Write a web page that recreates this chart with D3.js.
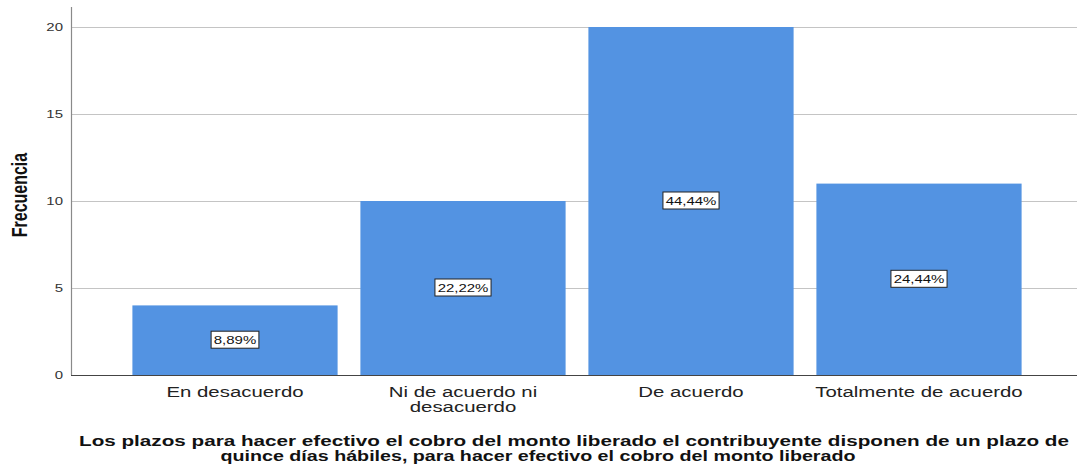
<!DOCTYPE html>
<html><head><meta charset="utf-8">
<script src="https://cdn.jsdelivr.net/npm/d3@7"></script>
<style>
html,body{margin:0;padding:0;background:#fff;}
svg{display:block;}
</style>
</head><body>
<svg id="chart" width="1077" height="468"></svg>
<script>
const categories = ["En desacuerdo", "Ni de acuerdo ni desacuerdo", "De acuerdo", "Totalmente de acuerdo"];
const categoryLines = [["En desacuerdo"], ["Ni de acuerdo ni", "desacuerdo"], ["De acuerdo"], ["Totalmente de acuerdo"]];
const frequencies = [4, 10, 20, 11];
const percentLabels = ["8,89%", "22,22%", "44,44%", "24,44%"];
const yTicks = [0, 5, 10, 15, 20];
const yTitle = "Frecuencia";
const xTitleLines = ["Los plazos para hacer efectivo el cobro del monto liberado el contribuyente disponen de un plazo de",
                     "quince días hábiles, para hacer efectivo el cobro del monto liberado"];

(function () {
const svg = d3.select("#chart");
const pLeft = 71, pRight = 1077, pTop = 7, pBottom = 375;
const SX = 1.36; // horizontal text stretch seen in the reference
const FONT = "Liberation Sans, Arial, sans-serif";

const x = d3.scaleBand().domain(categories).range([121, 1033]).paddingInner(0.1).paddingOuter(0.05);
const y = d3.scaleLinear().domain([0, 20]).range([pBottom, 27]);

// gridlines
svg.append("g").selectAll("line").data(yTicks.filter(d => d > 0)).join("line")
  .attr("x1", pLeft).attr("x2", pRight)
  .attr("y1", d => Math.round(y(d)) + 0.5).attr("y2", d => Math.round(y(d)) + 0.5)
  .attr("stroke", "#c4c4c4").attr("stroke-width", 1);

// bars
svg.append("g").selectAll("rect").data(categories).join("rect")
  .attr("x", d => x(d)).attr("width", x.bandwidth())
  .attr("y", (d, i) => y(frequencies[i]))
  .attr("height", (d, i) => y(0) - y(frequencies[i]))
  .attr("fill", "#5393e2");

// y axis
const yAxis = svg.append("g").attr("transform", `translate(${pLeft},0)`)
  .call(d3.axisLeft(y).tickValues(yTicks).tickSize(0).tickPadding(8));
yAxis.select(".domain").remove();
yAxis.selectAll("text").attr("x", 0).attr("transform", `translate(-8,0) scale(${SX},1)`)
  .attr("font-family", FONT).attr("font-size", 11).attr("fill", "#333");
svg.append("line").attr("x1", pLeft + 0.5).attr("x2", pLeft + 0.5).attr("y1", pTop).attr("y2", pBottom)
  .attr("stroke", "#8a8a8a").attr("stroke-width", 1.2);
// baseline
svg.append("line").attr("x1", pLeft).attr("x2", pRight).attr("y1", pBottom + 0.5).attr("y2", pBottom + 0.5)
  .attr("stroke", "#444").attr("stroke-width", 1);

// x axis labels
const xAxis = svg.append("g").attr("transform", `translate(0,${pBottom})`)
  .call(d3.axisBottom(x).tickSize(0).tickFormat(""));
xAxis.select(".domain").remove();
const catG = svg.append("g");
categories.forEach((c, i) => {
  const cx = x(c) + x.bandwidth() / 2;
  const t = catG.append("text").attr("transform", `translate(${cx},${pBottom + 22}) scale(${SX},1)`)
    .attr("text-anchor", "middle").attr("font-family", FONT)
    .attr("font-size", 15).attr("fill", "#222");
  categoryLines[i].forEach((ln, j) => {
    t.append("tspan").attr("x", 0).attr("dy", j === 0 ? 0 : 15).text(ln);
  });
});

// percent labels
const lab = svg.append("g").selectAll("g").data(categories).join("g")
  .attr("transform", (d, i) => `translate(${x(d) + x.bandwidth() / 2},${(y(frequencies[i]) + y(0)) / 2})`);
lab.each(function (d, i) {
  const g = d3.select(this);
  const t = g.append("text").attr("text-anchor", "middle").attr("dy", "0.36em")
    .attr("transform", `scale(${SX},1)`)
    .attr("font-family", FONT).attr("font-size", 11).attr("fill", "#111")
    .text(percentLabels[i]);
  const w = t.node().getBBox().width * SX;
  g.insert("rect", "text").attr("x", -w / 2 - 2.5).attr("y", -9).attr("width", w + 5).attr("height", 17)
    .attr("fill", "#fff").attr("stroke", "#222").attr("stroke-width", 1);
});

// y title
svg.append("text").attr("transform", `translate(27,${(pTop + pBottom) / 2 + 4}) scale(${SX},1) rotate(-90)`)
  .attr("text-anchor", "middle").attr("font-family", FONT)
  .attr("font-weight", "bold").attr("font-size", 16).attr("fill", "#111").text(yTitle);

// x title
const titleSpans = [{ cx: 574, y: 446, len: 990 }, { cx: 538, y: 461, len: 635 }];
const xt = svg.append("g");
xTitleLines.forEach((ln, i) => {
  const s = titleSpans[i];
  xt.append("text").attr("x", s.cx - s.len / 2).attr("y", s.y)
    .attr("textLength", s.len).attr("lengthAdjust", "spacingAndGlyphs")
    .attr("font-family", FONT).attr("font-weight", "bold").attr("font-size", 15.5).attr("fill", "#111")
    .text(ln);
});
})();
</script>
</body></html>
